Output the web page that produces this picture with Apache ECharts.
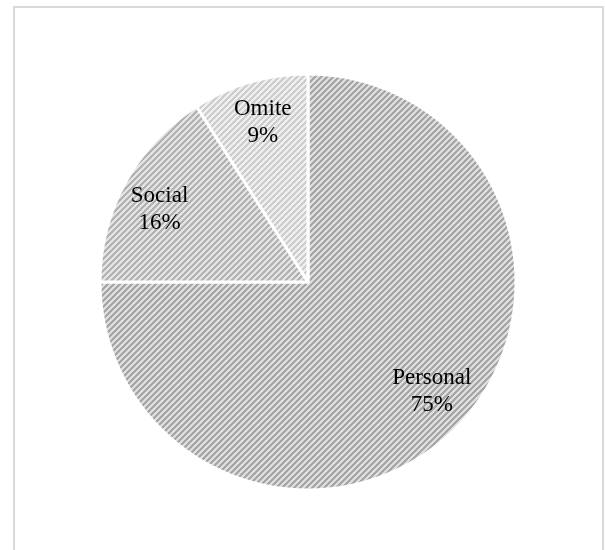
<!DOCTYPE html>
<html>
<head>
<meta charset="utf-8">
<script src="https://cdn.jsdelivr.net/npm/echarts@6/dist/echarts.min.js"></script>
<style>
html,body{margin:0;padding:0;background:#fff;}
#chart{width:605px;height:550px;}
</style>
</head>
<body>
<div id="chart"></div>
<script>
const categories = ['Personal', 'Social', 'Omite'];
const values = [75, 16, 9];
const labelText = ['Personal\n75%', 'Social\n16%', 'Omite\n9%'];

function stripe(dark, light) {
  const s = 6;
  const c = document.createElement('canvas');
  c.width = s; c.height = s;
  const ctx = c.getContext('2d');
  ctx.fillStyle = light; ctx.fillRect(0, 0, s, s);
  ctx.fillStyle = dark;
  for (let x = 0; x < s; x++) for (let y = 0; y < s; y++) {
    const k = (x + y) % s;
    if (k < 3) ctx.fillRect(x, y, 1, 1);
  }
  return { image: c, repeat: 'repeat' };
}
const fills = [stripe('#a6a6a6', '#dedede'), stripe('#b2b2b2', '#e4e4e4'), stripe('#cdcdcd', '#efefef')];
const labelOffsets = [[4, -10], [0, 9], [2, 3]];

const chart = echarts.init(document.getElementById('chart'));
const R = 208;
chart.setOption({
  animation: false,
  graphic: [{ type: 'rect', shape: { x: 14, y: 7, width: 589, height: 570 }, style: { fill: 'none', stroke: '#d9d9d9', lineWidth: 2 } }],
  series: [
    {
      type: 'pie', center: [308, 282], radius: [0, R], startAngle: 90, clockwise: true,
      label: { show: false }, labelLine: { show: false }, silent: true,
      itemStyle: { borderColor: '#ffffff', borderWidth: 3 },
      data: categories.map((c, i) => ({ name: c, value: values[i], itemStyle: { color: fills[i] } }))
    },
    {
      type: 'pie', center: [308, 282], radius: [R * 0.6, R], startAngle: 90, clockwise: true,
      silent: true, labelLine: { show: false },
      itemStyle: { color: 'rgba(0,0,0,0)', borderWidth: 0 },
      label: { show: true, position: 'inside', color: '#000', fontFamily: 'Liberation Serif', fontSize: 23, lineHeight: 27,
        formatter: p => labelText[p.dataIndex] },
      data: categories.map((c, i) => ({ name: c, value: values[i], label: { offset: labelOffsets[i] } }))
    }
  ]
});
</script>
</body>
</html>
